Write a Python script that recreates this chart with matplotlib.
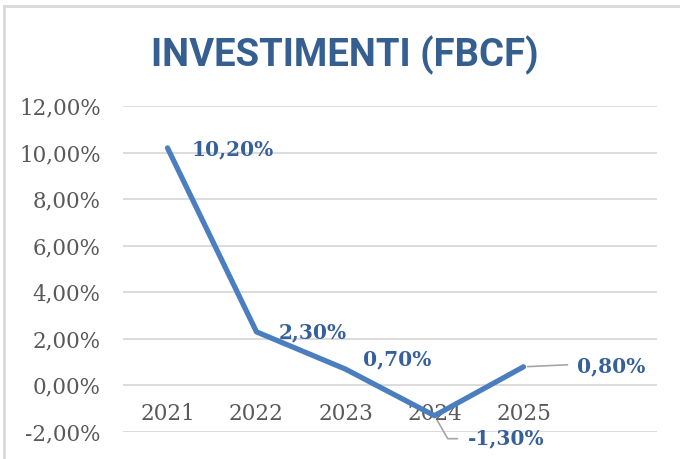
import matplotlib
matplotlib.use("Agg")
import matplotlib.pyplot as plt
from matplotlib.lines import Line2D
from matplotlib import font_manager

years = ["2021", "2022", "2023", "2024", "2025"]
values = [10.2, 2.3, 0.7, -1.3, 0.8]
labels = ["10,20%", "2,30%", "0,70%", "-1,30%", "0,80%"]
yticks = [-2, 0, 2, 4, 6, 8, 10, 12]
ytick_labels = ["-2,00%", "0,00%", "2,00%", "4,00%", "6,00%", "8,00%", "10,00%", "12,00%"]
title = "INVESTIMENTI (FBCF)"

# label offsets in pixels (dx, dy) relative to points
offsets = [(24, -1), (22, -1), (17, 10), (33, -23), (53, 0)]

names = {f.name for f in font_manager.fontManager.ttflist}
if "Liberation Sans Narrow" in names:
    title_family, title_size = ["Liberation Sans Narrow"], 30
else:
    title_family, title_size = ["Roboto", "Liberation Sans"], 27.5

W, H = 680, 459
fig = plt.figure(figsize=(W / 100, H / 100), dpi=100)
ax = fig.add_axes([123 / W, 1 - 432 / H, (657 - 123) / W, (432 - 106) / H])

x = list(range(len(years)))
line_color = "#4A7EBE"
label_color = "#36609A"

ax.plot(x, values, color=line_color, lw=3.8, solid_capstyle="round", solid_joinstyle="round", zorder=3)

ax.set_xlim(-0.5, 5.5)
ax.set_ylim(-2, 12)
ax.set_yticks(yticks)
ax.set_yticklabels(ytick_labels, family="DejaVu Serif", fontsize=15.5, color="#595959")
ax.yaxis.grid(True, color="#D9D9D9", lw=1.3)
ax.set_axisbelow(True)
for s in ax.spines.values():
    s.set_visible(False)
ax.tick_params(axis="y", length=0, pad=16)
ax.spines["bottom"].set_position(("data", 0))
ax.set_xticks(x)
ax.set_xticklabels(years, family="DejaVu Serif", fontsize=15.5, color="#595959")
ax.tick_params(axis="x", length=0, pad=13)

px = 0.72
for i, (v, lab) in enumerate(zip(values, labels)):
    dx, dy = offsets[i]
    ax.annotate(lab, (x[i], v), xytext=(dx * px, dy * px), textcoords="offset points",
                ha="left", va="center", fontsize=14.5, fontweight="bold",
                family="DejaVu Serif", color=label_color, zorder=4)

# leader lines (callouts) for 2024 and 2025
ax.annotate("", (x[3], values[3]), xytext=(23 * px, -23 * px), textcoords="offset points",
            arrowprops=dict(arrowstyle="-", color="#A6A6A6", lw=1.2,
                            connectionstyle="angle,angleA=0,angleB=-60,rad=0",
                            shrinkA=0, shrinkB=4))
ax.annotate("", (x[4], values[4]), xytext=(44 * px, 2 * px), textcoords="offset points",
            arrowprops=dict(arrowstyle="-", color="#A6A6A6", lw=1.2, shrinkA=0, shrinkB=3))

fig.text(345 / W, 1 - 55 / H, title, ha="center", va="center", fontsize=title_size,
         fontweight="bold", family=title_family, color="#365F91")

# chart border (light gray)
fig.add_artist(Line2D([4 / W, 1], [1 - 6 / H, 1 - 6 / H], transform=fig.transFigure, color="#D9D9D9", lw=2))
fig.add_artist(Line2D([4 / W, 4 / W], [0, 1 - 6 / H], transform=fig.transFigure, color="#D9D9D9", lw=2))

fig.savefig("out.png", dpi=100)
